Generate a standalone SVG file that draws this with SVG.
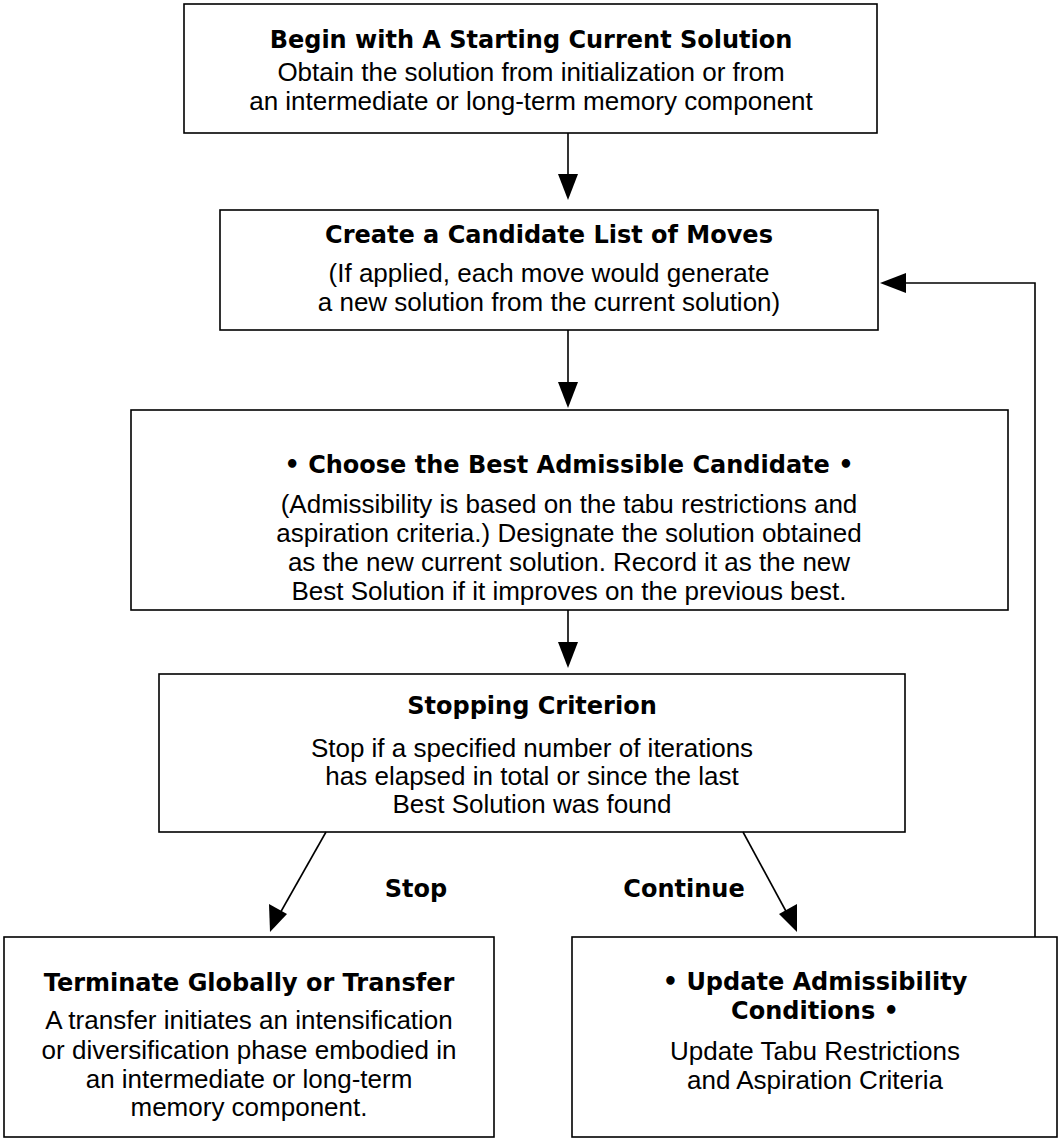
<svg xmlns="http://www.w3.org/2000/svg" width="1059" height="1139" viewBox="0 0 1059 1139">
<defs>
<style>
.box{fill:none;stroke:#000;stroke-width:1.6}
.ln{fill:none;stroke:#000;stroke-width:1.6}
.hd{fill:#000;stroke:none}
.t{font-family:"DejaVu Sans","Liberation Sans",sans-serif;font-weight:bold;font-size:24px;text-anchor:middle;fill:#000}
.b{font-family:"Liberation Sans",Arial,sans-serif;font-size:26px;text-anchor:middle;fill:#000}
</style>
</defs>
<rect width="1059" height="1139" fill="#fff"/>
<g id="n1">
<rect class="box" x="184" y="4" width="693" height="129"/>
<text class="t" x="531" y="48">Begin with A Starting Current Solution</text>
<text class="b" x="531" y="81">Obtain the solution from initialization or from</text>
<text class="b" x="531" y="110">an intermediate or long-term memory component</text>
</g>
<g id="n2">
<rect class="box" x="220" y="210" width="658" height="120"/>
<text class="t" x="549" y="243">Create a Candidate List of Moves</text>
<text class="b" x="549" y="282">(If applied, each move would generate</text>
<text class="b" x="549" y="311">a new solution from the current solution)</text>
</g>
<g id="n3">
<rect class="box" x="131" y="410" width="877" height="200"/>
<text class="t" x="569" y="473">• Choose the Best Admissible Candidate •</text>
<text class="b" x="569" y="513">(Admissibility is based on the tabu restrictions and</text>
<text class="b" x="569" y="542">aspiration criteria.) Designate the solution obtained</text>
<text class="b" x="569" y="571">as the new current solution. Record it as the new</text>
<text class="b" x="569" y="600">Best Solution if it improves on the previous best.</text>
</g>
<g id="n4">
<rect class="box" x="159" y="674" width="746" height="158"/>
<text class="t" x="532" y="714">Stopping Criterion</text>
<text class="b" x="532" y="757">Stop if a specified number of iterations</text>
<text class="b" x="532" y="785">has elapsed in total or since the last</text>
<text class="b" x="532" y="813">Best Solution was found</text>
</g>
<g id="n5">
<rect class="box" x="4" y="937" width="490" height="200"/>
<text class="t" x="249" y="991">Terminate Globally or Transfer</text>
<text class="b" x="249" y="1029">A transfer initiates an intensification</text>
<text class="b" x="249" y="1059">or diversification phase embodied in</text>
<text class="b" x="249" y="1088">an intermediate or long-term</text>
<text class="b" x="249" y="1116">memory component.</text>
</g>
<g id="n6">
<rect class="box" x="572" y="937" width="485" height="200"/>
<text class="t" x="815" y="990">• Update Admissibility</text>
<text class="t" x="815" y="1019">Conditions •</text>
<text class="b" x="815" y="1060">Update Tabu Restrictions</text>
<text class="b" x="815" y="1089">and Aspiration Criteria</text>
</g>
<g id="connectors">
<line class="ln" x1="568" y1="133" x2="568" y2="178"/>
<polygon class="hd" points="568,200 558,174 578,174"/>
<line class="ln" x1="568" y1="330" x2="568" y2="386"/>
<polygon class="hd" points="568,408 558,382 578,382"/>
<line class="ln" x1="568" y1="610" x2="568" y2="646"/>
<polygon class="hd" points="568,668 558,642 578,642"/>
<line class="ln" x1="326" y1="832" x2="279" y2="915"/>
<polygon class="hd" points="270,932 269,904 287,914"/>
<line class="ln" x1="743" y1="832" x2="788" y2="915"/>
<polygon class="hd" points="797,932 779,914 797,904"/>
<polyline class="ln" points="1035,937 1035,283 904,283"/>
<polygon class="hd" points="880,283 906,273 906,293"/>
<text class="t" x="416" y="897">Stop</text>
<text class="t" x="684" y="897">Continue</text>
</g>
</svg>
